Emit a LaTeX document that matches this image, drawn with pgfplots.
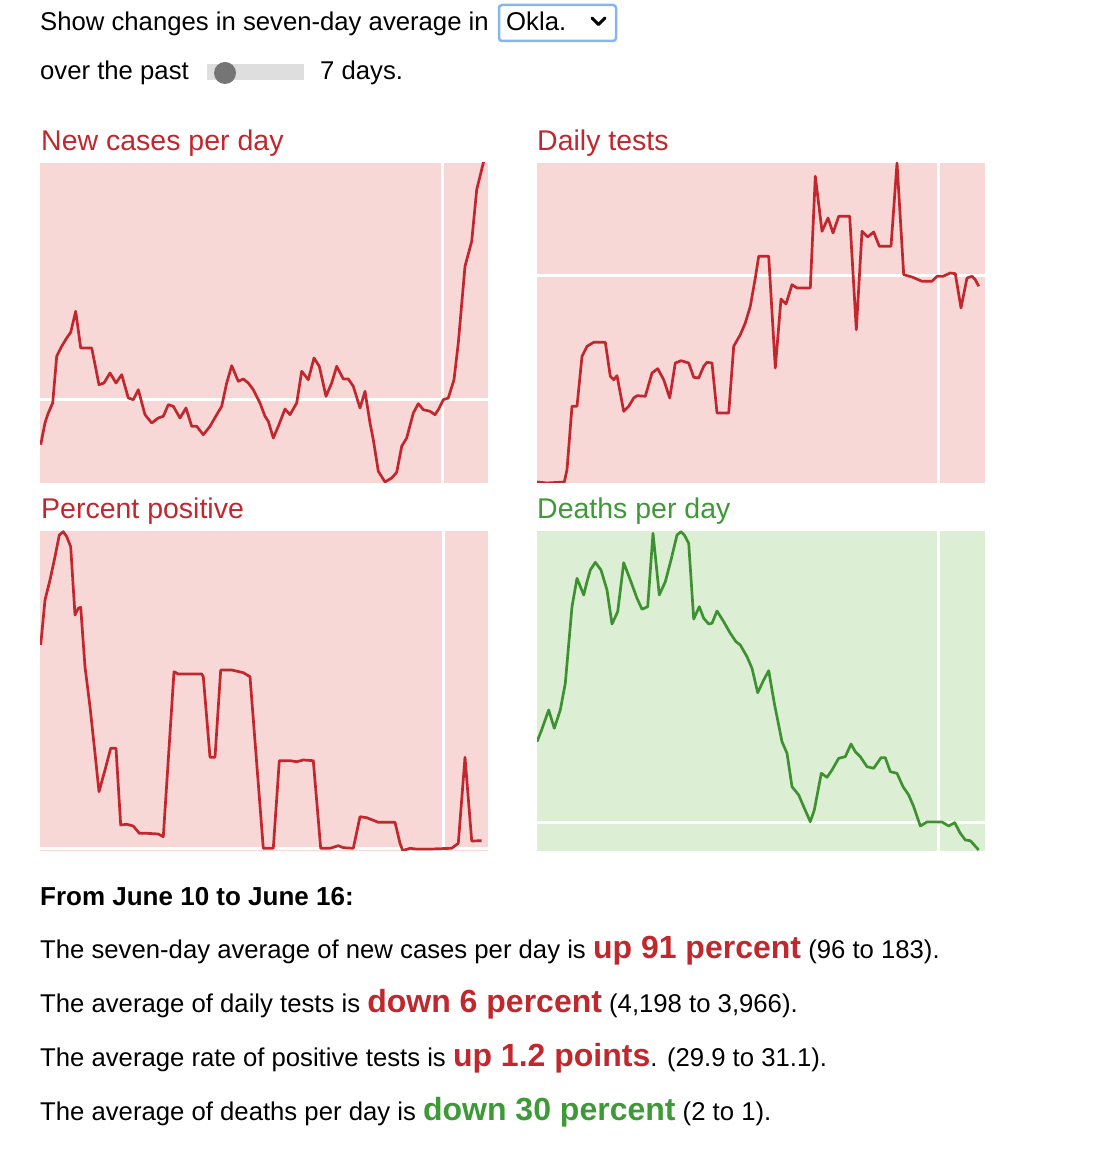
\documentclass[border=0pt]{standalone}
\usepackage{fontspec}
\setmainfont{Liberation Sans}
\usepackage{pgfplots}
\pgfplotsset{compat=1.18}

\definecolor{redline}{HTML}{C1272D}
\definecolor{pinkbg}{HTML}{F8D7D7}
\definecolor{greenbg}{HTML}{DCEFD4}
\definecolor{greenline}{HTML}{3E9130}
\definecolor{redtext}{HTML}{C0282D}
\definecolor{greentext}{HTML}{3D9A36}
\definecolor{selblue}{HTML}{86B6EC}

\pgfplotsset{
  panel/.style={width=448pt, height=320pt, scale only axis,
    xmin=0, xmax=448, ymin=0, ymax=320,
    axis line style={draw=none}, ticks=none, anchor=south west},
  refline/.style={white, line width=3pt, forget plot},
  dataline/.style={line width=2.7pt, line join=round, no marks},
}

\newcommand{\bodyfont}{\fontsize{25.7}{30}\selectfont}
\newcommand{\bigfont}{\fontsize{32}{36}\selectfont\bfseries}
\newcommand{\ttlfont}{\fontsize{28.5}{32}\selectfont}

\begin{document}
\begin{tikzpicture}
\useasboundingbox (0,0) rectangle (1112pt,1151pt);

% controls at the top
\node[anchor=base west, inner sep=0] at (40pt,1120pt) {\bodyfont Show changes in seven-day average in};
\draw[selblue, line width=2.5pt, rounded corners=3pt] (499pt,1110pt) rectangle (616pt,1146pt);
\node[anchor=base west, inner sep=0] at (506pt,1120pt) {\bodyfont Okla.};
\draw[black, line width=3pt, line cap=round, line join=round] (592pt,1133pt) -- (598.5pt,1126.5pt) -- (605pt,1133pt);
\node[anchor=base west, inner sep=0] at (40pt,1071pt) {\bodyfont over the past};
\fill[black!13] (207pt,1071pt) rectangle (304pt,1087pt);
\fill[black!54] (225pt,1078pt) circle (11pt);
\node[anchor=base west, inner sep=0] at (320pt,1071pt) {\bodyfont 7 days.};

% panel titles
\node[anchor=base west, inner sep=0, text=redtext] at (41pt,1000pt) {\ttlfont New cases per day};
\node[anchor=base west, inner sep=0, text=redtext] at (537pt,1000pt) {\ttlfont Daily tests};
\node[anchor=base west, inner sep=0, text=redtext] at (41pt,632pt) {\ttlfont Percent positive};
\node[anchor=base west, inner sep=0, text=greentext] at (537pt,632pt) {\ttlfont Deaths per day};

% New cases per day
\begin{axis}[panel, at={(40pt,668pt)}, axis background/.style={fill=pinkbg}]
\addplot[refline] coordinates {(0,83) (448,83)};
\addplot[refline] coordinates {(402,0) (402,320)};
\addplot[dataline, redline] coordinates {
(0.7,38.3) (5,60) (8.3,70) (12.7,80) (16.7,126.7) (21.7,136.7) (26.7,145) (30.7,150.7)
(35.7,171.7) (40.7,135) (51.7,135) (59,98.3) (64,100) (70,110) (76,100) (81.7,108.3)
(88.3,85) (93.3,83.3) (98.3,93.3) (105,68.3) (111.7,60) (118.3,65) (123.3,66.7) (128.3,78.3)
(133.3,76.7) (140,65) (146,75) (151.7,56.7) (156.7,56.7) (163.3,48.3) (170,56.7) (176.7,68.3)
(181.7,76.7) (186.7,100) (191.7,117.3) (198.3,101.7) (203.3,104) (208.3,100) (213.3,93.3)
(220,80) (225,66.7) (228.3,61.7) (233.3,45) (238.3,56.7) (245,74) (250,68.3) (256.7,80)
(261.7,111.7) (268.3,103.3) (274,125) (279.3,116.7) (286,86.7) (291.7,100) (296.7,116.7)
(303.3,104) (308.3,104) (313.3,96.7) (320,75) (325,91.7) (330,60) (333.3,43.3) (338.3,11.7)
(345,1) (351.7,5) (356.7,10.7) (361.7,36.7) (366.7,45) (373.3,70) (378.3,79.3) (383.3,73.3)
(390,71.7) (395,68.3) (398.3,73.3) (403.3,83.3) (408.3,85) (414,103.3) (418.3,140)
(425,216.7) (431.7,241.7) (436.7,293.3) (443.3,320) (445,326.7)};
\end{axis}

% Daily tests
\begin{axis}[panel, at={(537pt,668pt)}, axis background/.style={fill=pinkbg}]
\addplot[refline] coordinates {(0,207) (448,207)};
\addplot[refline] coordinates {(401,0) (401,320)};
\addplot[dataline, redline] coordinates {
(0,1) (10,0) (27.3,1) (30,13.3) (35,76.7) (40,76.7) (45,126.7) (50,136.7) (56.7,140.7)
(68.3,140.7) (73.3,106.7) (76.7,103.3) (80,107.3) (86.7,71.7) (91.7,76.7) (96.7,85)
(100,87.3) (108.3,86.7) (115,110) (120.7,114.3) (126.7,103.3) (132.7,85) (138.3,120)
(144,122.3) (151.7,120) (156.7,105.7) (161.7,105) (166.7,116.7) (170,120.7) (175,120)
(180,70) (191.7,70) (196.7,136.7) (203.3,148.3) (208.3,160) (213.3,176.7) (218.3,205)
(221.7,226.7) (231.7,226.7) (238.3,115) (244,184) (249,179) (255,198.3) (260,195)
(273.3,195) (278.3,306.7) (285,251.7) (291,265) (296,250) (301.7,266.7) (312.7,266.7)
(319.3,153.3) (325,251.7) (330.7,246) (336.7,251) (342.3,236.7) (354,236.7) (360,320)
(366.7,208.3) (375,206) (385,201.7) (395,201.7) (400,206.7) (406,206.7) (413.3,210)
(418.3,209.3) (424,175) (430,205) (435,206.7) (438.3,203.3) (441.7,196.7)};
\end{axis}

% Percent positive
\begin{axis}[panel, at={(40pt,300pt)}, axis background/.style={fill=pinkbg}]
\addplot[refline] coordinates {(0,2.7) (448,2.7)};
\addplot[refline] coordinates {(403,0) (403,320)};
\addplot[dataline, redline] coordinates {
(0.7,206) (5,251) (10,271) (15,294.3) (19.3,316) (23.3,319.3) (26.7,314.3) (30.7,304.3)
(35,236) (38.3,242.7) (40.7,243.7) (45,184.3) (50,144.3) (55,97.7) (59,59.3) (65,81)
(70.7,102.7) (76,102.7) (80.7,26) (86.7,26.7) (93.3,25) (99.3,17.7) (106.7,17.7) (118.3,17)
(123.3,14.3) (134,179.3) (138.3,177) (146.7,177) (161.7,177) (163.3,174.3) (170,93.7)
(175,93.7) (180.7,181) (191.7,181) (203.3,178.3) (210,174.3) (223.3,2.7) (233.3,2.7)
(239.3,90.3) (250,90.3) (256.7,89.3) (263.3,91) (273.3,90.3) (280.7,2.7) (290,2.7)
(298.3,5.3) (303.3,3.3) (313.3,2.7) (320,34.3) (326.7,33.3) (338.3,28.7) (355,28.7)
(360,7.7) (362.7,0.5) (370,2.7) (376.7,2) (390,2) (411.7,2.7) (418.3,7.7) (425,93.7)
(431.7,10) (441.7,10.3)};
\end{axis}

% Deaths per day
\begin{axis}[panel, at={(537pt,300pt)}, axis background/.style={fill=greenbg}]
\addplot[refline] coordinates {(0,28.7) (448,28.7)};
\addplot[refline] coordinates {(401.7,0) (401.7,320)};
\addplot[dataline, greenline] coordinates {
(0,109.3) (4,119.3) (11.7,141) (17.3,122.7) (23.3,141) (28.3,167.7) (35,244.3) (40,272.7)
(46.7,256) (50,269.3) (53.3,281) (58.3,288.7) (64,281) (70,261) (75,227) (80.7,239.3)
(86.7,288.3) (93.3,271) (100,252.7) (105,241.7) (110.7,244.3) (116,317.7) (122.3,256)
(128.3,269.3) (134,291) (140,316) (144,319.3) (147.3,316) (151.7,307.7) (156.7,232)
(162.3,244.3) (166.7,232.7) (171.7,227) (175,227.7) (180,240) (186.7,229.3) (193.3,217.7)
(199,209.3) (203.3,206) (210,194.3) (215,182.7) (220.7,158.3) (226.7,171) (231.7,180.3)
(237.3,147.7) (245,109.3) (250,97.7) (255,64.3) (261.7,56) (266.7,44.3) (273.3,29.3)
(277.3,41) (284.3,77.7) (290,73.7) (295,81) (301.7,92.7) (308.3,94.3) (314,107)
(318.3,99.3) (323.3,94.3) (330,84.3) (336.7,82.7) (344,93.3) (348.3,93.3) (353.3,79.3)
(360,77.7) (366,64.3) (371.7,56) (376.7,44.3) (383.3,25) (390,29) (405,29) (411.7,25)
(417.7,28.3) (423.3,17.7) (428.3,11) (433.3,10.3) (441.7,1)};
\end{axis}

% summary text
\node[anchor=base west, inner sep=0] at (40pt,245pt) {\fontsize{26}{30}\selectfont\bfseries From June 10 to June 16:};
\node[anchor=base west, inner sep=0] at (40pt,192pt) {\bodyfont The seven-day average of new cases per day is \textcolor{redtext}{\bigfont up 91 percent} (96 to 183).};
\node[anchor=base west, inner sep=0] at (40pt,138pt) {\bodyfont The average of daily tests is \textcolor{redtext}{\bigfont down 6 percent} (4,198 to 3,966).};
\node[anchor=base west, inner sep=0] at (40pt,84pt) {\bodyfont The average rate of positive tests is \textcolor{redtext}{\bigfont up 1.2 points}. (29.9 to 31.1).};
\node[anchor=base west, inner sep=0] at (40pt,30pt) {\bodyfont The average of deaths per day is \textcolor{greentext}{\bigfont down 30 percent} (2 to 1).};
\end{tikzpicture}
\end{document}
